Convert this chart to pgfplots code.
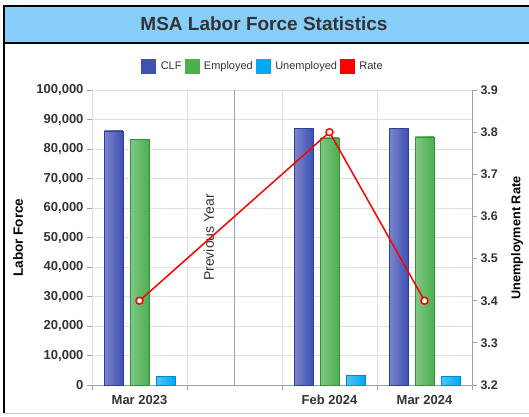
\documentclass[border=0pt]{standalone}
\usepackage{pgfplots}
\pgfplotsset{compat=1.18}
\usepackage{fontspec}
\setmainfont{Liberation Sans}
\definecolor{titlebg}{HTML}{87CEFA}
\definecolor{txt}{HTML}{333333}
\definecolor{clf}{HTML}{3F51B5}
\definecolor{clflight}{HTML}{7986CB}
\definecolor{clfdark}{HTML}{303F9F}
\definecolor{emp}{HTML}{4CAF50}
\definecolor{emplight}{HTML}{81C784}
\definecolor{empdark}{HTML}{388E3C}
\definecolor{une}{HTML}{03A9F4}
\definecolor{unelight}{HTML}{4FC3F7}
\definecolor{unedark}{HTML}{0288D1}
\definecolor{gridc}{HTML}{E0E0E0}
\definecolor{axc}{HTML}{A0A0A0}
\pgfplotsset{
  clfbar/.style={draw=clfdark, left color=clflight, right color=clf, bar shift=-26pt, forget plot},
  empbar/.style={draw=empdark, left color=emplight, right color=emp, bar shift=0pt, forget plot},
  unebar/.style={draw=unedark, left color=unelight, right color=une, bar shift=26pt, forget plot},
}
\begin{document}
\begin{tikzpicture}
\useasboundingbox (0pt,0pt) rectangle (529pt,416pt);
\fill[white] (0pt,0pt) rectangle (529pt,416pt);
% title bar
\fill[titlebg] (3pt,373pt) rectangle (529pt,410pt);
\draw[black,line width=1.3pt] (3pt,373pt) -- (529pt,373pt);
\draw[black,line width=2pt] (3.5pt,3pt) -- (3.5pt,410pt) -- (529pt,410pt);
\draw[gray!40,line width=1pt] (4pt,3pt) -- (529pt,3pt);
\node[font=\bfseries\fontsize{19}{22}\selectfont, text=txt] at (264pt,392pt) {MSA Labor Force Statistics};
% side labels
\node[rotate=90, font=\bfseries\fontsize{13.5}{16}\selectfont, text=black] at (18pt,178.5pt) {Labor Force};
\node[rotate=90, font=\bfseries\fontsize{12.7}{15}\selectfont, text=black] at (517pt,178pt) {Unemployment Rate};

\begin{axis}[
  at={(92pt,31pt)}, anchor=south west,
  scale only axis, width=380pt, height=295pt,
  xmin=-0.5, xmax=3.5, ymin=0, ymax=100000,
  axis x line*=bottom, axis y line*=left,
  axis line style={-},
  x axis line style={axc},
  y axis line style={gridc},
  ybar, bar width=18.5pt,
  xtick={-0.5,0.5,1.5,2.5,3.5}, xticklabels={},
  xmajorgrids, ymajorgrids,
  grid style={gridc, line width=0.8pt},
  ytick={0,10000,...,100000},
  scaled y ticks=false,
  tick align=outside,
  major tick length=5pt,
  tick style={axc, line width=0.8pt},
  yticklabel={\pgfmathprintnumber[fixed,precision=0,1000 sep={,},assume math mode=true]{\tick}},
  yticklabel style={font=\bfseries\fontsize{13}{15}\selectfont, text=txt},
  extra x ticks={0,2,3},
  extra x tick labels={Mar 2023,Feb 2024,Mar 2024},
  extra x tick style={major tick length=0pt, grid=none, xticklabel style={font=\bfseries\fontsize{13}{15}\selectfont, text=txt, yshift=-7pt}},
  clip=false,
]
% CLF
\addplot[clfbar] coordinates {(0,86200)};
\addplot[clfbar] coordinates {(2,87100)};
\addplot[clfbar] coordinates {(3,87100)};
% Employed
\addplot[empbar] coordinates {(0,83300)};
\addplot[empbar] coordinates {(2,83800)};
\addplot[empbar] coordinates {(3,84100)};
% Unemployed
\addplot[unebar] coordinates {(0,2900)};
\addplot[unebar] coordinates {(2,3300)};
\addplot[unebar] coordinates {(3,3000)};
\draw[axc, line width=0.9pt] (axis cs:1,0) -- (axis cs:1,100000);
\node[rotate=90, font=\fontsize{14}{16}\selectfont, text=txt] at (axis cs:0.73,50000) {Previous Year};
\end{axis}

\begin{axis}[
  at={(92pt,31pt)}, anchor=south west,
  scale only axis, width=380pt, height=295pt,
  xmin=-0.5, xmax=3.5, ymin=3.2, ymax=3.9,
  axis x line=none, axis y line*=right,
  axis line style={-, axc, line width=1pt},
  ytick={3.2,3.3,3.4,3.5,3.6,3.7,3.8,3.9},
  tick align=outside, major tick length=5pt,
  tick style={axc, line width=0.8pt},
  yticklabel={\pgfmathprintnumber[fixed,precision=1,fixed zerofill,assume math mode=true]{\tick}},
  yticklabel style={font=\bfseries\fontsize{12.5}{15}\selectfont, text=txt},
  legend columns=4,
  legend style={draw=none, fill=none, at={(axis description cs:0.45,1.081)}, anchor=center, font=\fontsize{11}{13}\selectfont, text=txt,
    /tikz/every even column/.append style={column sep=1pt},
    /tikz/every odd column/.append style={column sep=3pt}},
  clip=false,
]
\addlegendimage{legend image code/.code={\fill[clf] (0pt,-7pt) rectangle (14pt,7pt);}}
\addlegendentry{CLF}
\addlegendimage{legend image code/.code={\fill[emp] (0pt,-7pt) rectangle (14pt,7pt);}}
\addlegendentry{Employed}
\addlegendimage{legend image code/.code={\fill[une] (0pt,-7pt) rectangle (14pt,7pt);}}
\addlegendentry{Unemployed}
\addlegendimage{legend image code/.code={\fill[red] (0pt,-7pt) rectangle (14pt,7pt);}}
\addlegendentry{Rate}
\addplot[red, line width=1.5pt, mark=*, mark size=3.5pt, mark options={fill=white, draw=red, line width=1.5pt}, forget plot] coordinates {(0,3.4) (2,3.8) (3,3.4)};
\end{axis}
\end{tikzpicture}
\end{document}
